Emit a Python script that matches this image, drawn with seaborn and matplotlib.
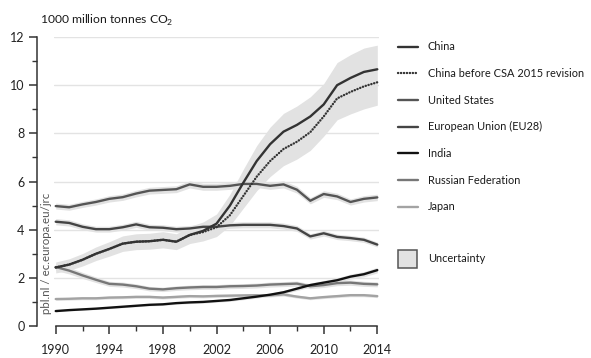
import matplotlib
matplotlib.use("Agg")
import matplotlib.pyplot as plt
from matplotlib.lines import Line2D
from matplotlib.patches import Rectangle
import seaborn as sns
import pandas as pd

# CO2 emissions, 1000 million tonnes
years = list(range(1990, 2015))
china = [2.43, 2.55, 2.75, 3.00, 3.20, 3.42, 3.50, 3.52, 3.58, 3.50, 3.78, 3.95, 4.25,
         5.00, 5.95, 6.85, 7.55, 8.07, 8.35, 8.70, 9.20, 10.00, 10.30, 10.55, 10.66]
china_old = [2.43, 2.55, 2.75, 3.00, 3.20, 3.42, 3.50, 3.52, 3.58, 3.50, 3.78, 3.90, 4.10,
             4.60, 5.40, 6.20, 6.85, 7.35, 7.65, 8.05, 8.70, 9.45, 9.72, 9.95, 10.12]
united_states = [4.98, 4.93, 5.05, 5.15, 5.28, 5.35, 5.50, 5.62, 5.65, 5.68, 5.88, 5.78, 5.78,
                 5.82, 5.90, 5.90, 5.82, 5.88, 5.66, 5.20, 5.48, 5.38, 5.15, 5.28, 5.34]
eu28 = [4.33, 4.28, 4.12, 4.02, 4.02, 4.10, 4.22, 4.10, 4.08, 4.02, 4.05, 4.12, 4.12,
        4.18, 4.20, 4.20, 4.20, 4.15, 4.05, 3.72, 3.85, 3.70, 3.65, 3.58, 3.38]
india = [0.62, 0.66, 0.69, 0.72, 0.76, 0.80, 0.84, 0.88, 0.90, 0.95, 0.98, 1.00, 1.04,
         1.08, 1.15, 1.22, 1.30, 1.40, 1.55, 1.70, 1.80, 1.90, 2.05, 2.15, 2.32]
russia = [2.45, 2.30, 2.10, 1.92, 1.75, 1.72, 1.65, 1.55, 1.52, 1.57, 1.60, 1.62, 1.62,
          1.65, 1.66, 1.68, 1.72, 1.74, 1.76, 1.65, 1.70, 1.78, 1.80, 1.75, 1.73]
japan = [1.12, 1.13, 1.15, 1.15, 1.18, 1.19, 1.21, 1.21, 1.18, 1.21, 1.24, 1.23, 1.25,
         1.26, 1.27, 1.28, 1.27, 1.31, 1.22, 1.15, 1.20, 1.24, 1.28, 1.28, 1.24]

labels = ["China", "China before CSA 2015 revision", "United States",
          "European Union (EU28)", "India", "Russian Federation", "Japan"]
series = [china, china_old, united_states, eu28, india, russia, japan]
colors = ["#333333", "#333333", "#555555", "#444444", "#111111", "#777777", "#a3a3a3"]
# relative uncertainty per country
uncertainty = [0.094, 0.094, 0.025, 0.03, 0.05, 0.06, 0.05]

year_ticks = [1990, 1994, 1998, 2002, 2006, 2010, 2014]
year_minor = [1992, 1996, 2000, 2004, 2008, 2012]
value_ticks = [0, 2, 4, 6, 8, 10, 12]
value_minor = [1, 3, 5, 7, 9, 11]

sns.set_style("white")
plt.rcParams["font.family"] = ["Lato", "DejaVu Sans"]

fig = plt.figure(figsize=(5.91, 3.58), dpi=100)
ax = fig.add_axes([0.0909, 0.0894, 0.5509, 0.8072])

df = pd.concat(
    [pd.DataFrame({"year": years, "value": vals, "series": lab}) for lab, vals in zip(labels, series)],
    ignore_index=True,
)

# uncertainty bands
band_color = "#e2e2e2"
lo_c = [min(a, b) * (1 - uncertainty[0]) for a, b in zip(china, china_old)]
hi_c = [max(a, b) * (1 + uncertainty[0]) for a, b in zip(china, china_old)]
ax.fill_between(years, lo_c, hi_c, color=band_color, lw=0, zorder=1)
for vals, u in zip(series[2:], uncertainty[2:]):
    ax.fill_between(years, [v * (1 - u) for v in vals], [v * (1 + u) for v in vals],
                    color=band_color, lw=0, zorder=1)

dot_pattern = (0.1, 1.15)
draw_order = labels[::-1]
palette = dict(zip(labels, colors))
dashes = {lab: "" for lab in labels}
dashes[labels[1]] = dot_pattern
sns.lineplot(data=df, x="year", y="value", hue="series", style="series",
             hue_order=draw_order, style_order=draw_order,
             palette=palette, dashes=dashes, linewidth=1.7,
             estimator=None, legend=False, ax=ax, zorder=3)
for line in ax.get_lines():
    line.set_dash_capstyle("round")

ax.set_xlim(1989.85, 2014.15)
ax.set_ylim(0, 12)
ax.set_xlabel("")
ax.set_ylabel("")

ax.set_xticks(year_ticks)
ax.set_xticks(year_minor, minor=True)
ax.set_yticks(value_ticks)
ax.set_yticks(value_minor, minor=True)
ax.tick_params(axis="both", which="major", direction="out", length=6, width=1.1,
               color="#333333", labelsize=9, labelcolor="#222222")
ax.tick_params(axis="both", which="minor", direction="out", length=3.5, width=1.0,
               color="#333333")
ax.tick_params(axis="x", which="both", bottom=True, pad=7)
ax.tick_params(axis="y", which="both", left=True, pad=3)

ax.yaxis.grid(True, color="#e3e3e3", lw=1.0, zorder=0)
ax.xaxis.grid(False)
ax.set_axisbelow(True)

for s in ["top", "right"]:
    ax.spines[s].set_visible(False)
ax.spines["left"].set_position(("outward", 12))
ax.spines["left"].set_bounds(0, 12)
ax.spines["bottom"].set_bounds(1990, 2014)
for s in ["left", "bottom"]:
    ax.spines[s].set_color("#333333")
    ax.spines[s].set_linewidth(1.1)

fig.text(40 / 591, 1 - 20 / 358, "1000 million tonnes CO$_\\mathregular{2}$",
         fontsize=8.7, color="#1a1a1a", va="center", ha="left")
fig.text(46 / 591, 1 - 253 / 358, "pbl.nl / ec.europa.eu/jrc", rotation=90,
         fontsize=8.3, color="#555555", va="center", ha="center")

# legend
W, H = 591, 358
legend_size = 7.9
row_y = [46.7, 73.3, 100, 126.7, 153.3, 180, 206.7]
for lab, col, y in zip(labels, colors, row_y):
    ls = (0, dot_pattern) if lab == labels[1] else "-"
    fig.add_artist(Line2D([398 / W, 418 / W], [1 - y / H, 1 - y / H], color=col,
                          lw=1.7, linestyle=ls, dash_capstyle="round",
                          transform=fig.transFigure))
    fig.text(428 / W, 1 - y / H, lab, fontsize=legend_size, color="#1a1a1a",
             va="center", ha="left")
fig.add_artist(Rectangle((398 / W, 1 - 268 / H), 19 / W, 18 / H, facecolor=band_color,
                         edgecolor="#555555", lw=1.1, transform=fig.transFigure))
fig.text(428 / W, 1 - 258.3 / H, "Uncertainty", fontsize=legend_size, color="#1a1a1a",
         va="center", ha="left")

fig.savefig("out.png", dpi=100)
